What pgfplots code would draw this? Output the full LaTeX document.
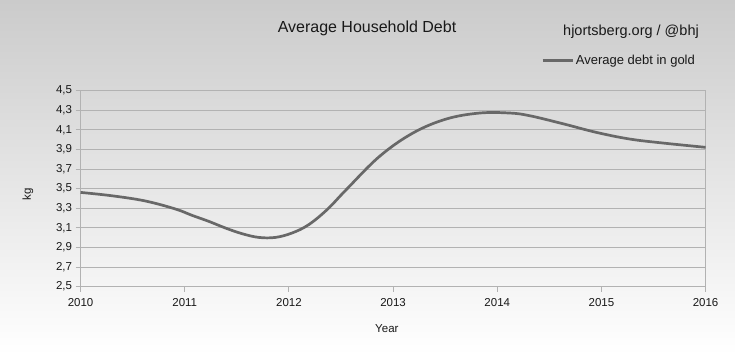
\documentclass[border=0pt]{standalone}
\usepackage{pgfplots}
\pgfplotsset{compat=1.18}
\usepackage{fontspec}
\setmainfont{Liberation Sans}
\definecolor{bgtop}{RGB}{203,203,203}
\definecolor{gridc}{RGB}{178,178,178}
\definecolor{linec}{RGB}{104,104,104}
\definecolor{txt}{RGB}{25,25,25}
\begin{document}
\begin{tikzpicture}
\shade[top color=bgtop, bottom color=white] (0,0) rectangle (735bp,355bp);
\begin{axis}[
  at={(80.6bp,68.3bp)}, anchor=south west,
  scale only axis, width=625bp, height=196bp,
  xmin=2010, xmax=2016, ymin=2.5, ymax=4.5,
  xtick={2010,2011,2012,2013,2014,2015,2016},
  ytick={2.5,2.7,2.9,3.1,3.3,3.5,3.7,3.9,4.1,4.3,4.5},
  ymajorgrids, grid style={gridc, line width=1bp},
  axis line style={gridc, line width=1bp},
  tick style={gridc, line width=1bp},
  tick pos=left, tick align=outside, major tick length=5bp,
  /pgf/number format/assume math mode=true,
  x tick label style={/pgf/number format/1000 sep={}, font=\fontsize{11.5bp}{13bp}\selectfont, text=txt, yshift=-3bp},
  y tick label style={/pgf/number format/.cd, use comma, fixed, fixed zerofill, precision=1, /tikz/.cd, font=\fontsize{11.5bp}{13bp}\selectfont, text=txt},
  xlabel={Year}, ylabel={kg},
  xlabel style={at={(axis description cs:0.49,-0.236)}, anchor=base, font=\fontsize{11.5bp}{13bp}\selectfont, text=txt},
  ylabel style={at={(axis description cs:-0.0845,0.47)}, anchor=center, font=\fontsize{11.5bp}{13bp}\selectfont, text=txt},
  legend style={at={(axis description cs:0.7366,1.153)}, anchor=west, draw=none, fill=none, inner sep=0pt, font=\fontsize{13bp}{15bp}\selectfont, text=txt},
  legend image code/.code={\draw[#1] (0bp,0bp) -- (30bp,0bp);},
  clip=false,
]
\addplot[linec, line width=2.7bp, smooth, tension=0.6] coordinates {
(2010.00,3.462) (2010.30,3.428) (2010.62,3.375)
(2010.91,3.293) (2011.07,3.228) (2011.23,3.167) (2011.39,3.099)
(2011.55,3.041) (2011.71,3.003) (2011.87,3.003) (2012.03,3.048)
(2012.19,3.133) (2012.37,3.29) (2012.55,3.49) (2012.87,3.83)
(2013.19,4.068) (2013.51,4.211) (2013.83,4.272) (2014.12,4.272)
(2014.31,4.245) (2014.63,4.163) (2014.95,4.075) (2015.27,4.007)
(2015.59,3.966) (2016.00,3.922)
};
\addlegendentry{Average debt in gold}
\end{axis}
\node[anchor=base, font=\fontsize{16bp}{18bp}\selectfont, text=txt] at (367bp,322bp) {Average Household Debt};
\node[anchor=base west, inner sep=0pt, font=\fontsize{14.5bp}{17bp}\selectfont, text=txt] at (563bp,319bp) {hjortsberg.org / @bhj};
\pgfresetboundingbox
\useasboundingbox (0,0) rectangle (735bp,355bp);
\end{tikzpicture}
\end{document}
